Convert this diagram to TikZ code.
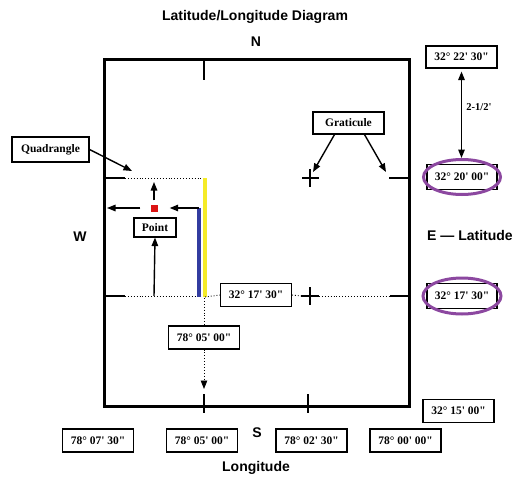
\documentclass[tikz,border=0pt]{standalone}
\usepackage{fontspec}
\newfontfamily\lblfont{Liberation Serif}
\newfontfamily\headfont{Liberation Sans}
\usetikzlibrary{arrows.meta}
\definecolor{purp}{RGB}{140,72,160}
\definecolor{ylw}{RGB}{245,235,40}
\definecolor{blu}{RGB}{50,60,160}
\definecolor{redsq}{RGB}{220,20,20}
\begin{document}
\begin{tikzpicture}[x=1pt,y=-1pt,
  lbox/.style={draw, line width=1.1pt, font=\lblfont\bfseries\fontsize{11.5}{13}\selectfont, inner sep=0pt, minimum width=71pt, minimum height=23pt},
  head/.style={font=\headfont\bfseries\fontsize{14}{16}\selectfont, inner sep=0pt},
  tip/.tip={Triangle[length=8.5pt,width=6.5pt]},
  arr/.style={-tip, line width=1.4pt},
  dotln/.style={dotted, line width=0.9pt},
  tickln/.style={line width=1.6pt},
  ell/.style={draw=purp, line width=3pt}]
\useasboundingbox (0,0) rectangle (526,481);
% frame
\draw[line width=3pt] (104,60) rectangle (409,406);
% headings
\node[head] (title) at (255,17) {Latitude/Longitude Diagram};
\node[head] (north) at (256,42) {N};
\node[head] (west) at (80,237) {W};
\node[head] (south) at (257,433) {S};
\node[head] (lon) at (256,468) {Longitude};
\node[head, anchor=west] (elat) at (427,235) {E — Latitude};
% ticks
\draw[tickln] (204,60) -- (204,80);
\draw[tickln] (204,394) -- (204,413);
\draw[tickln] (308,394) -- (308,413);
\draw[tickln] (104,178) -- (125,178);
\draw[tickln] (389,178) -- (409,178);
\draw[tickln] (104,296) -- (125,296);
\draw[tickln] (390,296) -- (409,296);
\draw[tickln] (302,178) -- (319,178) (310,169) -- (310,187);
\draw[tickln] (301,296) -- (319,296) (310,287) -- (310,305);
% dotted lines
\draw[dotln] (125,178) -- (203,178);
\draw[dotln] (125,296) -- (199,296);
% quadrangle
\node[lbox, minimum width=77pt, minimum height=25pt] (quad) at (50.5,149.5) {Quadrangle};
\coordinate (quadtip) at (132,171);
\draw[arr] (quad.east) -- (quadtip);
% bars
\draw[ylw, line width=4pt] (205,178) -- (205,297);
\draw[blu, line width=4pt] (199,208) -- (199,297);
% point
\node[fill=redsq, minimum size=7pt, inner sep=0pt] (pt) at (154,208) {};
\node[lbox, minimum width=42pt, minimum height=19pt] (point) at (155,227.5) {Point};
\coordinate (upend) at (154,182);
\coordinate (leftend) at (107,208);
\coordinate (bluetop) at (199,208);
\coordinate (ptbase) at (154,296);
\draw[arr, shorten <=4pt] (pt) -- (upend);
\draw[arr, shorten <=10pt] (pt) -- (leftend);
\draw[arr, shorten >=12pt] (bluetop) -- (pt);
\draw[arr] (ptbase) -- (point.south);
% 32 17 30 inside
\node[lbox] (lat1730) at (256,295) {32° 17' 30"};
\coordinate (yb) at (205,297);
\draw[dotln] (yb) -- (lat1730.west);
\draw[dotln] (lat1730.east) -- (301,296);
\draw[dotln] (319,296) -- (390,296);
% graticule
\node[lbox, minimum height=22pt] (grat) at (348.5,123) {Graticule};
\coordinate (gl) at (313,172);
\coordinate (gr) at (386,172);
\draw[arr] ([xshift=-14pt]grat.south) -- (gl);
\draw[arr] ([xshift=16pt]grat.south) -- (gr);
% longitude marker inside
\node[lbox] (lon0500a) at (204,337.5) {78° 05' 00"};
\coordinate (ytop) at (204,298);
\coordinate (downend) at (204,389);
\draw[dotln] (ytop) -- (lon0500a.north);
\draw[dotln, -tip] (lon0500a.south) -- (downend);
% right column
\node[lbox, minimum height=22pt] (lat2230) at (461.5,57) {32° 22' 30"};
\node[lbox, minimum width=70pt, minimum height=25pt] (lat2000) at (462,177) {32° 20' 00"};
\draw[ell] (lat2000.center) ellipse [x radius=38.5, y radius=17.5];
\node[lbox, minimum width=70pt, minimum height=25pt] (lat1730b) at (462,296) {32° 17' 30"};
\draw[ell] (lat1730b.center) ellipse [x radius=39, y radius=18];
\coordinate (elltop) at (461.5,158);
\draw[tip-tip, line width=1.4pt, shorten <=3pt] (lat2230.south) -- (elltop);
\node[font=\lblfont\bfseries\fontsize{10.5}{12}\selectfont, inner sep=0pt] (span) at (479,107) {2-1/2'};
\node[lbox] (lat1500) at (458.5,411) {32° 15' 00"};
% bottom row
\node[lbox] (b1) at (98,440.5) {78° 07' 30"};
\node[lbox] (b2) at (202,440.5) {78° 05' 00"};
\node[lbox] (b3) at (311.5,440.5) {78° 02' 30"};
\node[lbox] (b4) at (405.5,440.5) {78° 00' 00"};
\end{tikzpicture}
\end{document}
